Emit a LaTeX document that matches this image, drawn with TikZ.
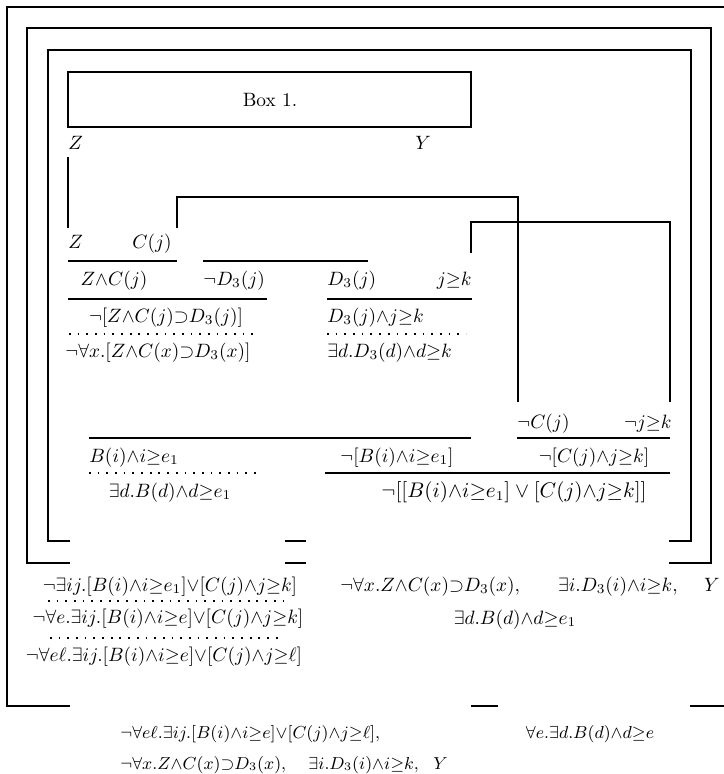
\documentclass[tikz,border=0pt]{standalone}
\usepackage{amssymb}
\newcommand\myand{{\wedge}}
\newcommand\myor{{\vee}}
\newcommand\myge{{\geq}}
\newcommand\mysup{{\supset}}
\begin{document}
\begin{tikzpicture}[x=0.518pt,y=-0.518pt,
  lbl/.style={inner sep=0pt},
  midf/.style={inner sep=0pt, font=\fontsize{9.3}{11}\selectfont},
  sml/.style={inner sep=0pt, font=\fontsize{8.8}{10}\selectfont},
  rul/.style={line width=0.9pt},
  dotrule/.style={line width=1pt, dash pattern=on 0.9pt off 3.6pt},
  frm/.style={line width=1pt}]
\useasboundingbox (0,0) rectangle (724,774);
% frames
\draw[frm] (724,7) -- (7,7) -- (7,706) -- (70,706);
\draw[frm] (471,706) -- (498,706);
\draw[frm] (690,706) -- (724,706);
\draw[frm] (70,563) -- (27,563) -- (27,28) -- (711,28) -- (711,563) -- (669,563);
\draw[frm] (285,563) -- (306,563);
\draw[frm] (70,541) -- (48,541) -- (48,50) -- (691,50) -- (691,541) -- (669,541);
\draw[frm] (285,541) -- (306,541);
% box 1
\draw[frm] (68,72) rectangle (471,127);
\node[lbl] (box) at (270,100) {Box 1.};
\node[lbl, anchor=base west] (z1) at (68,149) {$Z$};
\node[lbl, anchor=base] (y1) at (423,149) {$Y$};
% row 1
\node[lbl, anchor=base west] (z2) at (68,248) {$Z$};
\node[lbl, anchor=base west] (cj) at (132,248) {$C(j)$};
% connectors
\draw[rul] (68,157) -- (68,228);
\draw[rul] (177,228) -- (177,197) -- (518,197) -- (518,402);
\draw[rul] (471,253) -- (471,222) -- (670,222) -- (670,402);
% rules
\draw[rul] (68,261) -- (177,261);
\draw[rul] (203,261) -- (368,261);
\node[lbl, anchor=base] (zc) at (114,285) {$Z\myand C(j)$};
\node[lbl, anchor=base west] (nd) at (203,285) {$\neg D_3(j)$};
\node[lbl, anchor=base west] (d3) at (327,285) {$D_3(j)$};
\node[lbl, anchor=base east] (jk) at (472,285) {$j\myge k$};
\draw[rul] (68,299) -- (267,299);
\draw[rul] (327,299) -- (472,299);
\node[lbl, anchor=base] (r3a) at (166,322) {$\neg[Z\myand C(j)\mysup D_3(j)]$};
\node[lbl, anchor=base west] (r3b) at (327,322) {$D_3(j)\myand j\myge k$};
\draw[dotrule] (69,334) -- (260,334);
\draw[dotrule] (327,334) -- (466,334);
\node[lbl, anchor=base] (r4a) at (158,357) {$\neg\forall x.[Z\myand C(x)\mysup D_3(x)]$};
\node[lbl, anchor=base west] (r4b) at (327,357) {$\exists d.D_3(d)\myand d\myge k$};
% lower part
\node[lbl, anchor=base west] (nc) at (517,428) {$\neg C(j)$};
\node[lbl, anchor=base east] (njk) at (672,428) {$\neg j\myge k$};
\draw[rul] (89,438) -- (471,438);
\draw[rul] (517,438) -- (670,438);
\node[lbl, anchor=base west] (bi) at (89,462) {$B(i)\myand i\myge e_1$};
\node[lbl, anchor=base] (nbi) at (397,462) {$\neg[B(i)\myand i\myge e_1]$};
\node[lbl, anchor=base] (ncj) at (594,462) {$\neg[C(j)\myand j\myge k]$};
\draw[dotrule] (89,473) -- (261,473);
\draw[rul] (325,473) -- (670,473);
\node[lbl, anchor=base] (edb) at (170,497) {$\exists d.B(d)\myand d\myge e_1$};
\node[lbl, anchor=base, font=\fontsize{10.5}{12}\selectfont] (nor) at (514,497) {$\neg[[B(i)\myand i\myge e_1]\vee[C(j)\myand j\myge k]]$};
% outside inner frames
\node[lbl, anchor=base] (b1) at (170,591) {$\neg\exists ij.[B(i)\myand i\myge e_1]\myor[C(j)\myand j\myge k]$};
\node[lbl, anchor=base west, font=\fontsize{9.6}{11}\selectfont] (b1r) at (340,591) {$\neg\forall x.Z\myand C(x)\mysup D_3(x),\hspace{18pt}\exists i.D_3(i)\myand i\myge k,\hspace{12pt}Y$};
\draw[dotrule] (48,601) -- (283,601);
\node[lbl, anchor=base] (b2) at (168,623) {$\neg\forall e.\exists ij.[B(i)\myand i\myge e]\myor[C(j)\myand j\myge k]$};
\node[lbl, anchor=base] (b2r) at (515,624) {$\exists d.B(d)\myand d\myge e_1$};
\draw[dotrule] (50,638) -- (283,638);
\node[lbl, anchor=base] (b3) at (164,661) {$\neg\forall e\ell.\exists ij.[B(i)\myand i\myge e]\myor[C(j)\myand j\myge \ell]$};
% outside outer frame
\node[midf, anchor=base west] (c1) at (120,738) {$\neg\forall e\ell.\exists ij.[B(i)\myand i\myge e]\myor[C(j)\myand j\myge \ell],$};
\node[midf, anchor=base] (c1r) at (590,738) {$\forall e.\exists d.B(d)\myand d\myge e$};
\node[sml, anchor=base west] (c2) at (120,769) {$\neg\forall x.Z\myand C(x)\mysup D_3(x),\hspace{10pt}\exists i.D_3(i)\myand i\myge k,\hspace{6pt}Y$};
\end{tikzpicture}
\end{document}
